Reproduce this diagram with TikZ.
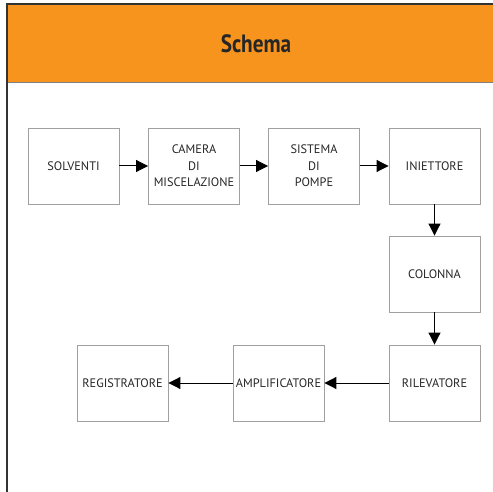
\documentclass[tikz,border=0pt]{standalone}
\usepackage{fontspec}
\setmainfont{PT Sans}
\newfontfamily\titlefont[FakeStretch=0.85]{PT Sans Bold}
\usetikzlibrary{arrows.meta}
\definecolor{hdr}{HTML}{F7941D}
\definecolor{boxgray}{HTML}{A0A0A0}
\definecolor{frame}{HTML}{333333}
\tikzset{
  blk/.style={draw=boxgray, line width=0.9pt, minimum width=91pt, minimum height=76pt,
    inner sep=0pt, align=center, font=\fontsize{12.3}{16.5}\selectfont, text=black!85},
  conn/.style={line width=1pt, -{Triangle[length=12pt,width=12pt]}}
}
\begin{document}
\begin{tikzpicture}[x=1pt,y=-1pt]
\useasboundingbox (0,0) rectangle (493,492);
\fill[hdr] (7,4) rectangle (494,82);
\draw[gray, line width=0.9pt] (7,82) -- (494,82);
\draw[frame, line width=1.3pt] (494,4) -- (7,4) -- (7,493);
\node[font=\titlefont\fontsize{25}{27}\selectfont, text=black!85] (title) at (256,44) {Schema};
\node[blk] (solv) at (73.5,166) {SOLVENTI};
\node[blk] (cam) at (194,166) {CAMERA\\DI\\MISCELAZIONE};
\node[blk] (sis) at (314,166) {SISTEMA\\DI\\POMPE};
\node[blk] (iniet) at (434.5,166) {INIETTORE};
\node[blk] (col) at (434.5,274) {COLONNA};
\node[blk] (ril) at (434.5,383) {RILEVATORE};
\node[blk] (amp) at (278.5,383) {AMPLIFICATORE};
\node[blk] (reg) at (122.5,383) {REGISTRATORE};
\draw[conn] (solv) -- (cam);
\draw[conn] (cam) -- (sis);
\draw[conn] (sis) -- (iniet);
\draw[conn] (iniet) -- (col);
\draw[conn] (col) -- (ril);
\draw[conn] (ril) -- (amp);
\draw[conn] (amp) -- (reg);
\end{tikzpicture}
\end{document}
